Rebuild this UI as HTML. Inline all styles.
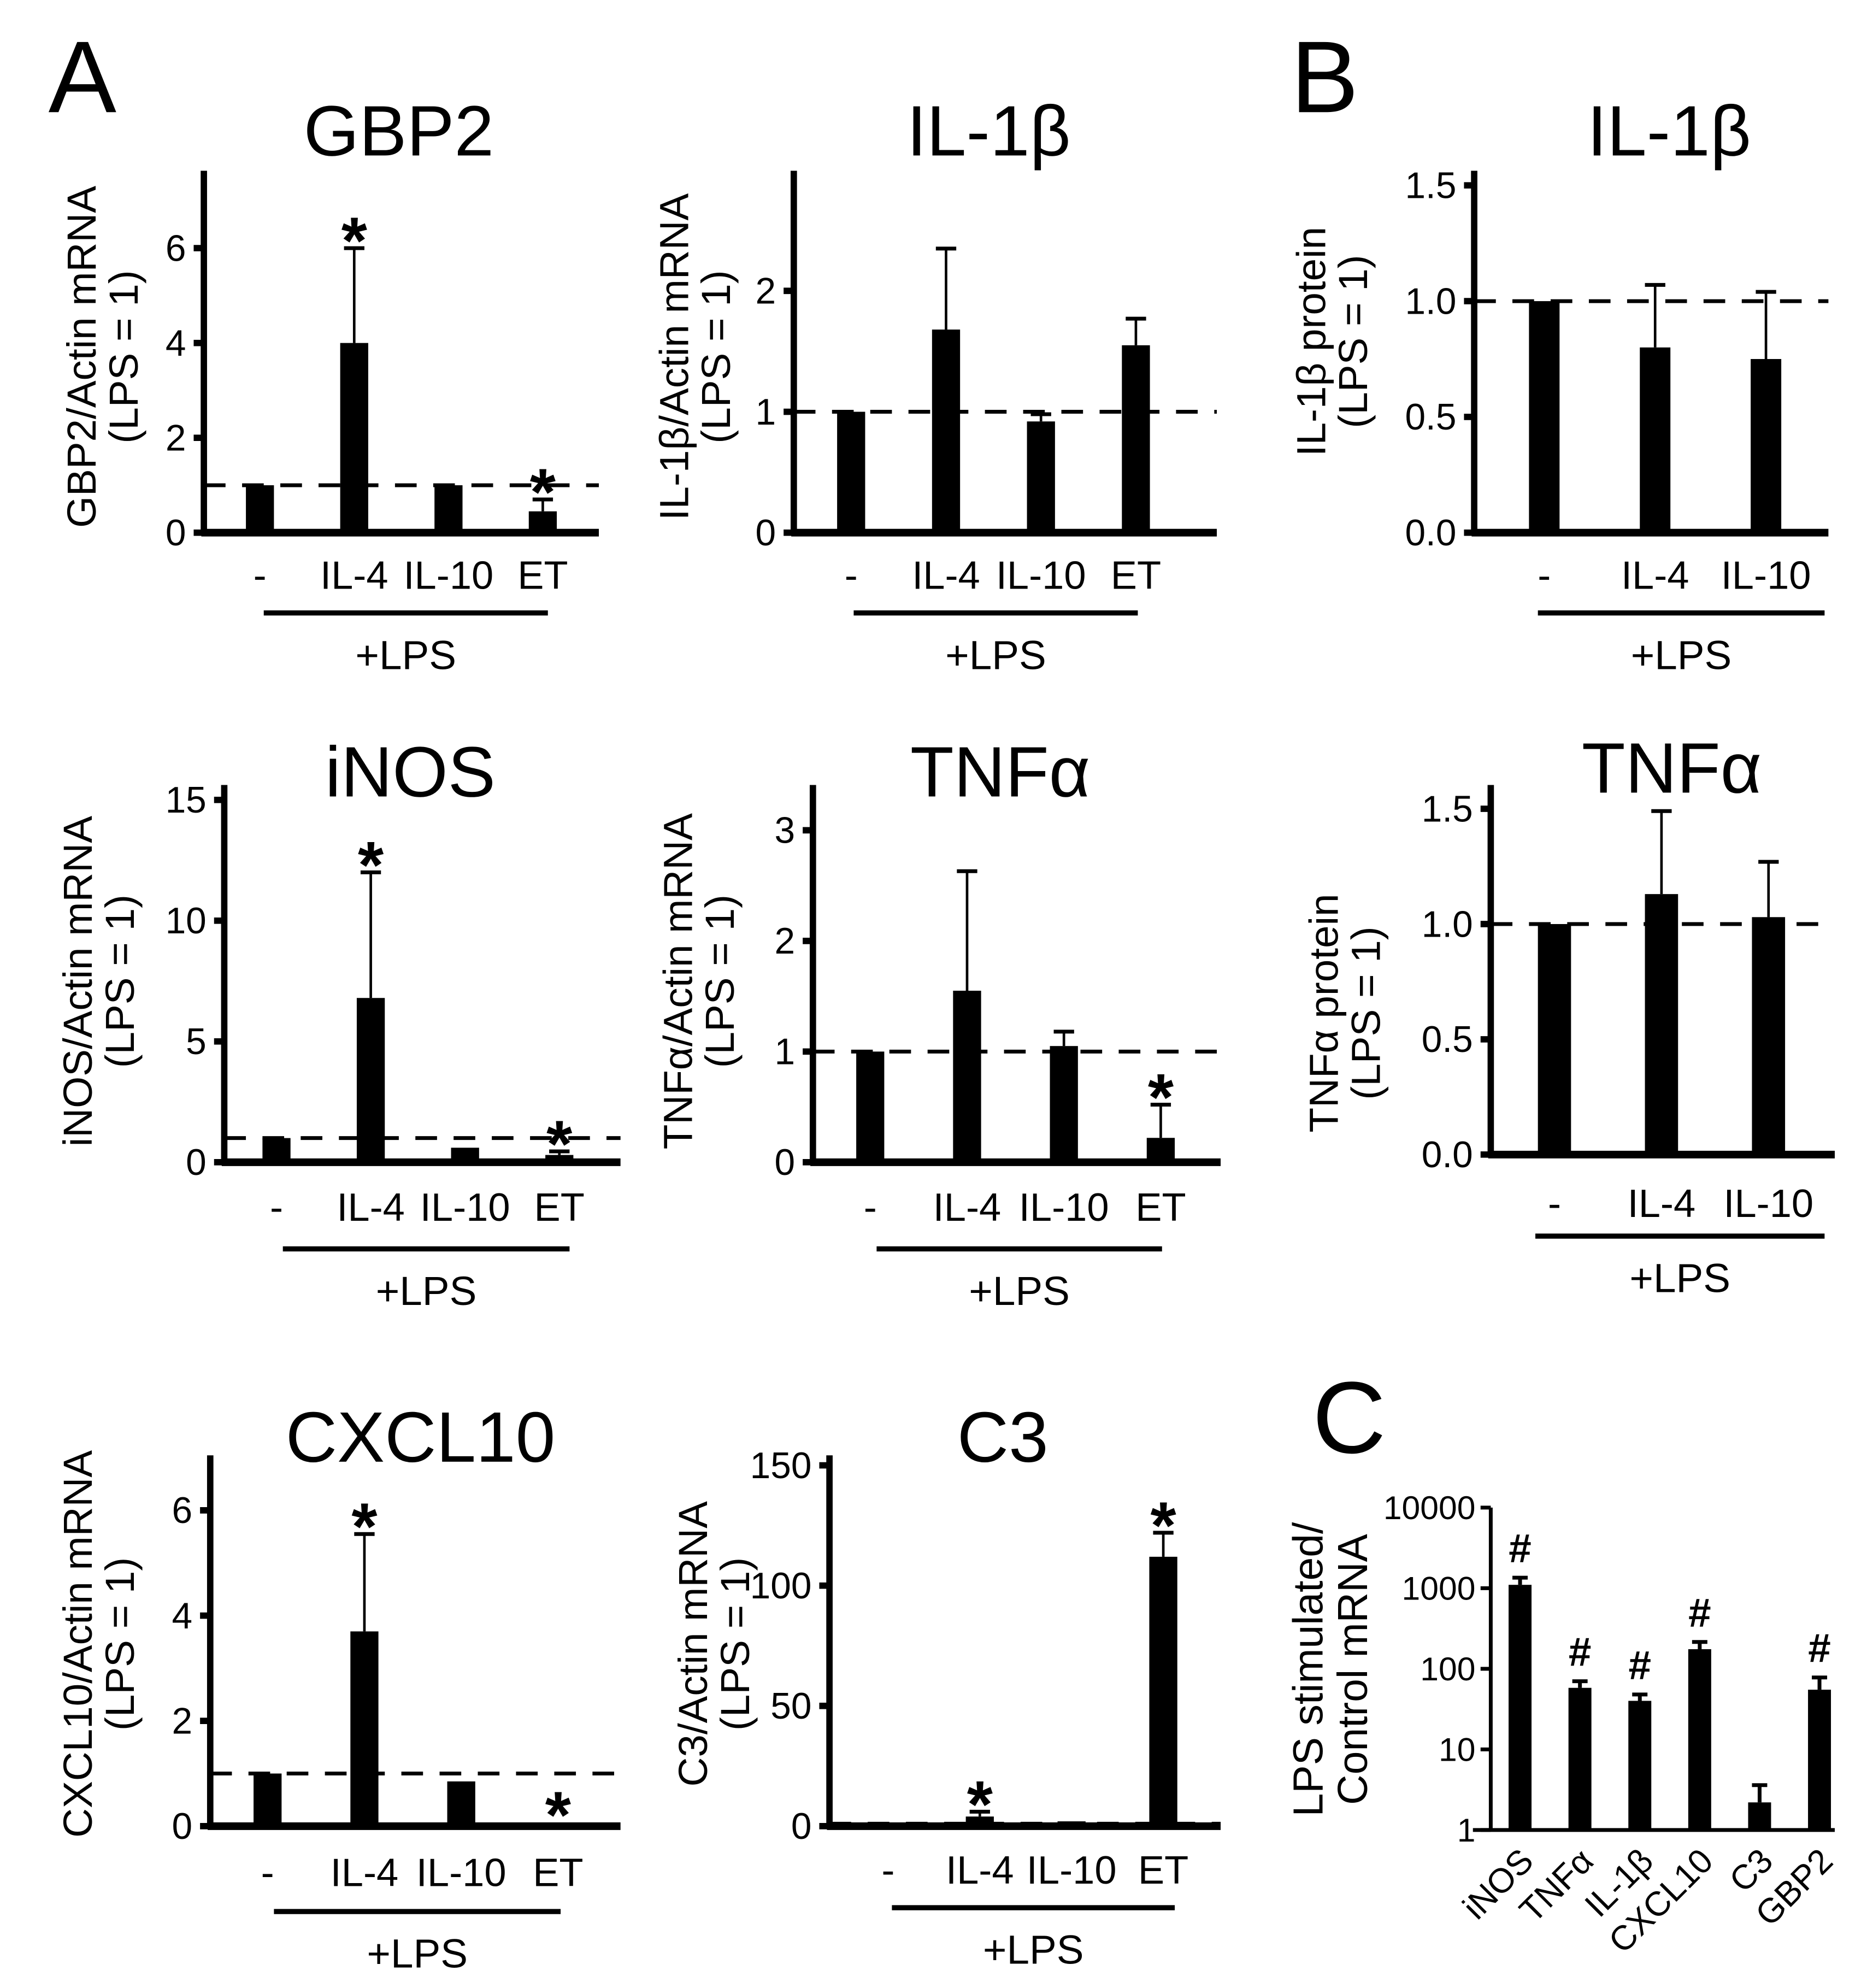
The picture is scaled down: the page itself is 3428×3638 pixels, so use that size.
<!DOCTYPE html>
<html><head><meta charset="utf-8"><style>
html,body{margin:0;padding:0;background:#fff;}
svg{display:block;font-family:"Liberation Sans",Arial,sans-serif;}
</style></head><body>
<svg id="fig" width="3428" height="3638" viewBox="0 0 1470 1560" preserveAspectRatio="none" xmlns="http://www.w3.org/2000/svg">
<rect width="1470" height="1560" fill="#fff"/>
<text x="38" y="88" font-size="80">A</text>
<text x="1013" y="88" font-size="80">B</text>
<text x="1030" y="1140" font-size="80">C</text>
</svg>
<script>
// ---- data ----
const catsA = ["-","IL-4","IL-10","ET"];
const catsB = ["-","IL-4","IL-10"];
const gbp2Vals = [1.0, 4.0, 1.0, 0.45];
const gbp2Errs = [null, 6.0, null, 0.7];
const gbp2Stars = [false, true, false, true];
const il1bVals = [1.0, 1.68, 0.92, 1.55];
const il1bErrs = [null, 2.35, 0.98, 1.77];
const il1bStars = [false, false, false, false];
const il1bProtVals = [1.0, 0.8, 0.75];
const il1bProtErrs = [null, 1.07, 1.04];
const inosVals = [1.0, 6.8, 0.6, 0.3];
const inosErrs = [null, 12.0, null, 0.45];
const inosStars = [false, true, false, true];
const tnfVals = [1.0, 1.55, 1.05, 0.22];
const tnfErrs = [null, 2.63, 1.18, 0.52];
const tnfStars = [false, false, false, true];
const tnfProtVals = [1.0, 1.13, 1.03];
const tnfProtErrs = [null, 1.49, 1.27];
const cxclVals = [1.0, 3.7, 0.85, 0.07];
const cxclErrs = [null, 5.55, null, null];
const cxclStars = [false, true, false, true];
const c3Vals = [1, 4, 2, 112];
const c3Errs = [null, 6, null, 122];
const c3Stars = [false, true, false, true];
const cCats = ["iNOS","TNFα","IL-1β","CXCL10","C3","GBP2"];
const cVals = [1100, 58, 40, 175, 2.2, 55];
const cErrs = [1350, 70, 48, 215, 3.6, 78];
const cHash = [true, true, true, true, false, true];
const cTicks = [1, 10, 100, 1000, 10000];

const NS = "http://www.w3.org/2000/svg";
const svg = document.getElementById("fig");
function el(tag, attrs, parent, txt){
  const e = document.createElementNS(NS, tag);
  for (const k in attrs) e.setAttribute(k, attrs[k]);
  if (txt !== undefined) e.textContent = txt;
  (parent||svg).appendChild(e);
  return e;
}

function panel(p){
  const g = el("g", {});
  
  
  const y = v => p.base - (v / p.ymax) * (p.base - p.top);
  const t = el("text", {x:p.tx, y:p.ty, "font-size":56, "text-anchor":"middle"}, g, p.title);
  
  
  const yl = el("text", {transform:`translate(${p.ylx},${p.yly}) rotate(-90)`, "font-size":32, "text-anchor":"middle"}, g);
  
  
  el("tspan", {x:0, dy:0}, yl, p.ylab1);
  el("tspan", {x:0, dy:33}, yl, p.ylab2);
  p.ticks.forEach((tv, i) => {
    const ty = y(tv);
    const tk = el("line", {x1:p.ax-8, x2:p.ax, y1:ty, y2:ty, stroke:"#000","stroke-width":5}, g);
    
    
    const tl = el("text", {x:p.ax-14, y:ty+10, "font-size":29, "text-anchor":"end"}, g, p.tickLabels[i]);
    
    
  });
  p.vals.forEach((v, i) => {
    const cx = p.bx0 + i * p.bdx;
    if (p.errs[i] != null) {
      const e1 = el("line", {x1:cx, x2:cx, y1:y(v), y2:y(p.errs[i]), stroke:"#000","stroke-width":2}, g);
      
      
      const e2 = el("line", {x1:cx-8, x2:cx+8, y1:y(p.errs[i]), y2:y(p.errs[i]), stroke:"#000","stroke-width":3}, g);
      
      
    }
    const h = Math.max(p.base - y(v), 2);
    const r = el("rect", {x:cx-p.bw/2, y:p.base-h, width:p.bw, height:h, fill:"#000"}, g);
    
    
    if (p.stars && p.stars[i]) {
      const top = p.errs[i] != null ? y(p.errs[i]) : y(v);
      const s = el("text", {x:cx, y:top+12, "font-size":52, "font-weight":"bold", "text-anchor":"middle"}, g, "*");
      
      
    }
    const cl = el("text", {x:cx, y:p.cly, "font-size":31, "text-anchor":"middle"}, g, p.cats[i]);
    
    
  });
  const d = el("line", {x1:p.ax, x2:p.xend, y1:y(1), y2:y(1), stroke:"#000","stroke-width":3,"stroke-dasharray":"17 13"}, g);
  
  
  const ya = el("line", {x1:p.ax, x2:p.ax, y1:p.top-6, y2:p.base, stroke:"#000","stroke-width":5}, g);
  
  
  const xa = el("line", {x1:p.ax-2, x2:p.xend, y1:p.base, y2:p.base, stroke:"#000","stroke-width":6}, g);
  
  
  const lb = el("line", {x1:p.lx1, x2:p.lx2, y1:p.ly, y2:p.ly, stroke:"#000","stroke-width":4}, g);
  
  
  const lt = el("text", {x:(p.lx1+p.lx2)/2, y:p.ly+44, "font-size":32, "text-anchor":"middle"}, g, "+LPS");
  
  
}

panel({name:"gbp2-chart", title:"GBP2", tx:313, ty:122, ylab1:"GBP2/Actin mRNA", ylab2:"(LPS = 1)", ylx:75, yly:280,
  ax:160, top:140, base:418, xend:470, ymax:7.47, ticks:[0,2,4,6], tickLabels:["0","2","4","6"],
  cats:catsA, vals:gbp2Vals, errs:gbp2Errs, stars:gbp2Stars, bx0:204, bdx:74, bw:22, cly:462, lx1:207, lx2:430, ly:481});
panel({name:"il1b-mrna-chart", title:"IL-1β", tx:776, ty:122, ylab1:"IL-1β/Actin mRNA", ylab2:"(LPS = 1)", ylx:540, yly:280,
  ax:623, top:140, base:418, xend:955, ymax:2.93, ticks:[0,1,2], tickLabels:["0","1","2"],
  cats:catsA, vals:il1bVals, errs:il1bErrs, stars:il1bStars, bx0:668, bdx:74.5, bw:22, cly:462, lx1:670, lx2:893, ly:481});
panel({name:"il1b-protein-chart", title:"IL-1β", tx:1310, ty:122, ylab1:"IL-1β protein", ylab2:"(LPS = 1)", ylx:1040, yly:268,
  ax:1157, top:140, base:418, xend:1435, ymax:1.53, ticks:[0,0.5,1,1.5], tickLabels:["0.0","0.5","1.0","1.5"],
  cats:catsB, vals:il1bProtVals, errs:il1bProtErrs, stars:null, bx0:1212, bdx:87, bw:24, cly:462, lx1:1207, lx2:1432, ly:481});
panel({name:"inos-chart", title:"iNOS", tx:322, ty:625, ylab1:"iNOS/Actin mRNA", ylab2:"(LPS = 1)", ylx:72, yly:770,
  ax:176, top:622, base:912, xend:487, ymax:15.3, ticks:[0,5,10,15], tickLabels:["0","5","10","15"],
  cats:catsA, vals:inosVals, errs:inosErrs, stars:inosStars, bx0:217, bdx:74, bw:22, cly:958, lx1:222, lx2:447, ly:980});
panel({name:"tnfa-mrna-chart", title:"TNFα", tx:785, ty:625, ylab1:"TNFα/Actin mRNA", ylab2:"(LPS = 1)", ylx:543, yly:770,
  ax:638, top:622, base:912, xend:958, ymax:3.34, ticks:[0,1,2,3], tickLabels:["0","1","2","3"],
  cats:catsA, vals:tnfVals, errs:tnfErrs, stars:tnfStars, bx0:683, bdx:76, bw:22, cly:958, lx1:688, lx2:912, ly:980});
panel({name:"tnfa-protein-chart", title:"TNFα", tx:1312, ty:622, ylab1:"TNFα protein", ylab2:"(LPS = 1)", ylx:1050, yly:795,
  ax:1170, top:622, base:906, xend:1440, ymax:1.57, ticks:[0,0.5,1,1.5], tickLabels:["0.0","0.5","1.0","1.5"],
  cats:catsB, vals:tnfProtVals, errs:tnfProtErrs, stars:null, bx0:1220, bdx:84, bw:26, cly:955, lx1:1205, lx2:1432, ly:970});
panel({name:"cxcl10-chart", title:"CXCL10", tx:330, ty:1147, ylab1:"CXCL10/Actin mRNA", ylab2:"(LPS = 1)", ylx:72, yly:1290,
  ax:165, top:1148, base:1433, xend:487, ymax:6.9, ticks:[0,2,4,6], tickLabels:["0","2","4","6"],
  cats:catsA, vals:cxclVals, errs:cxclErrs, stars:cxclStars, bx0:210, bdx:76, bw:22, cly:1480, lx1:215, lx2:440, ly:1500});
panel({name:"c3-chart", title:"C3", tx:787, ty:1147, ylab1:"C3/Actin mRNA", ylab2:"(LPS = 1)", ylx:555, yly:1290,
  ax:651, top:1148, base:1433, xend:958, ymax:151, ticks:[0,50,100,150], tickLabels:["0","50","100","150"],
  cats:catsA, vals:c3Vals, errs:c3Errs, stars:c3Stars, bx0:697, bdx:72, bw:22, cly:1478, lx1:700, lx2:922, ly:1497});

(function(){
  const g = el("g", {});
  
  
  const ax = 1170, base = 1436, top = 1183, xend = 1440;
  const y = v => base - (Math.log10(v) / 4) * (base - top);
  const yl = el("text", {transform:"translate(1038,1310) rotate(-90)", "font-size":33, "text-anchor":"middle"}, g);
  
  
  el("tspan", {x:0, dy:0}, yl, "LPS stimulated/");
  el("tspan", {x:0, dy:35}, yl, "Control mRNA");
  cTicks.forEach(tv => {
    const ty = y(tv);
    const tk = el("line", {x1:ax-8, x2:ax, y1:ty, y2:ty, stroke:"#000","stroke-width":3}, g);
    
    
    const tl = el("text", {x:ax-12, y:ty+9, "font-size":26, "text-anchor":"end"}, g, String(tv));
    
    
  });
  cVals.forEach((v, i) => {
    const cx = 1193 + i * 47;
    const e1 = el("line", {x1:cx, x2:cx, y1:y(v), y2:y(cErrs[i]), stroke:"#000","stroke-width":3}, g);
    
    
    const e2 = el("line", {x1:cx-6, x2:cx+6, y1:y(cErrs[i]), y2:y(cErrs[i]), stroke:"#000","stroke-width":3}, g);
    
    
    const r = el("rect", {x:cx-9, y:y(v), width:18, height:base-y(v), fill:"#000"}, g);
    
    
    if (cHash[i]) {
      const h = el("text", {x:cx, y:y(cErrs[i])-12, "font-size":32, "font-weight":"bold", "text-anchor":"middle"}, g, "#");
      
      
    }
    const cl = el("text", {transform:`translate(${cx+12},${base+26}) rotate(-45)`, "font-size":27, "text-anchor":"end"}, g, cCats[i]);
    
    
  });
  const ya = el("line", {x1:ax, x2:ax, y1:top, y2:base, stroke:"#000","stroke-width":3}, g);
  
  
  const xa = el("line", {x1:ax-14, x2:xend, y1:base, y2:base, stroke:"#000","stroke-width":3}, g);
  
  
})();
</script>
</body></html>
